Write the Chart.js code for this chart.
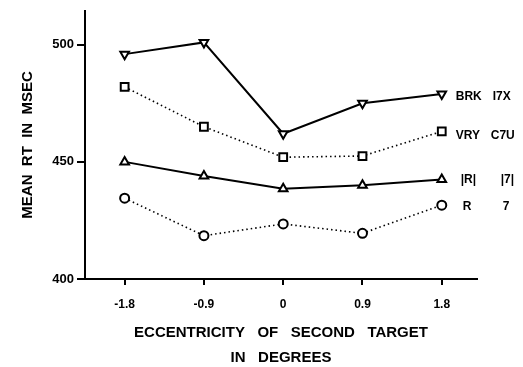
<!DOCTYPE html>
<html>
<head>
<meta charset="utf-8">
<script src="https://cdn.jsdelivr.net/npm/chart.js@4/dist/chart.umd.min.js"></script>
<style>
  html, body { margin: 0; padding: 0; background: #fff; }
  #wrap { width: 523px; height: 367px; position: relative; }
</style>
</head>
<body>
<div id="wrap"><canvas id="c" width="523" height="367"></canvas></div>
<script>
// ---- data ----
const eccentricity = [-1.8, -0.9, 0, 0.9, 1.8];
const xTickValues = [-1.8, -0.9, 0, 0.9, 1.8];
const yTickValues = [400, 450, 500];

const seriesBRK = [496, 501, 462, 475, 479];
const seriesVRY = [482, 465, 452, 452.5, 463];
const seriesIRI = [450, 444, 438.5, 440, 442.5];
const seriesR   = [434.5, 418.5, 423.5, 419.5, 431.5];

const labelFirst  = ['BRK', 'VRY', '|R|', 'R'];
const labelSecond = ['I7X', 'C7U', '|7|', '7'];

const xTitle = ['ECCENTRICITY   OF   SECOND   TARGET', 'IN   DEGREES'];
const yTitle = 'MEAN  RT  IN  MSEC';

const FONT = "'Liberation Sans', Arial, sans-serif";
const INK = '#000';

function pts(vals) { return eccentricity.map((x, i) => ({ x: x, y: vals[i] })); }

const solid = [];
const dotted = [1.5, 3];

const datasets = [
  { data: pts(seriesBRK), borderDash: solid, borderWidth: 2, pointStyle: 'triangle', pointRotation: 180, pointRadius: 5 },
  { data: pts(seriesVRY), borderDash: dotted, borderWidth: 1.6, pointStyle: 'rect', pointRotation: 0, pointRadius: 5.5 },
  { data: pts(seriesIRI), borderDash: solid, borderWidth: 2, pointStyle: 'triangle', pointRotation: 0, pointRadius: 5 },
  { data: pts(seriesR), borderDash: dotted, borderWidth: 1.6, pointStyle: 'circle', pointRotation: 0, pointRadius: 4.5 }
].map(d => Object.assign({
  borderColor: INK,
  backgroundColor: '#fff',
  pointBackgroundColor: '#fff',
  pointBorderColor: INK,
  pointBorderWidth: 2,
  showLine: true,
  tension: 0,
  fill: false
}, d));

const endLabels = {
  id: 'endLabels',
  afterDatasetsDraw(chart) {
    const ctx = chart.ctx;
    const xs = chart.scales.x, ys = chart.scales.y;
    ctx.save();
    ctx.fillStyle = INK;
    ctx.font = 'bold 12px ' + FONT;
    ctx.textBaseline = 'middle';
    ctx.textAlign = 'left';
    const offs1 = [14, 14, 19, 21];
    const offs2 = [51, 49, 59, 61];
    const dy = [3, 4, 0, 1];
    chart.data.datasets.forEach((ds, i) => {
      const last = ds.data[ds.data.length - 1];
      const px = xs.getPixelForValue(last.x);
      const py = ys.getPixelForValue(last.y) + dy[i];
      ctx.fillText(labelFirst[i], px + offs1[i], py);
      ctx.fillText(labelSecond[i], px + offs2[i], py);
    });
    ctx.restore();
  }
};

new Chart(document.getElementById('c'), {
  type: 'scatter',
  data: { datasets: datasets },
  plugins: [endLabels],
  options: {
    responsive: false,
    animation: false,
    devicePixelRatio: 1,
    layout: { padding: { top: 8, right: 46, bottom: 0, left: 0 } },
    plugins: { legend: { display: false }, tooltip: { enabled: false } },
    scales: {
      x: {
        type: 'linear',
        min: -2.25,
        max: 2.2,
        afterBuildTicks: s => { s.ticks = xTickValues.map(v => ({ value: v })); },
        afterFit: s => { s.height = 88; },
        border: { display: true, color: INK, width: 2 },
        grid: { display: true, drawOnChartArea: false, drawTicks: true, tickLength: 6, color: INK, lineWidth: 2 },
        ticks: { color: INK, font: { size: 12, weight: 'bold', family: FONT }, padding: 12, maxRotation: 0,
                 callback: v => String(v) },
        title: { display: true, text: xTitle, color: INK, font: { size: 15, weight: 'bold', family: FONT, lineHeight: '25px' }, padding: { top: 0, bottom: -3 } }
      },
      y: {
        type: 'linear',
        min: 400,
        max: 514.5,
        afterBuildTicks: s => { s.ticks = yTickValues.map(v => ({ value: v })); },
        afterFit: s => { s.width = 85; },
        border: { display: true, color: INK, width: 2 },
        grid: { display: true, drawOnChartArea: false, drawTicks: true, tickLength: 8, color: INK, lineWidth: 2 },
        ticks: { color: INK, font: { size: 13, weight: 'bold', family: FONT }, padding: 3 },
        title: { display: true, text: yTitle, color: INK, font: { size: 15, weight: 'bold', family: FONT }, padding: { top: 19, bottom: 0 } }
      }
    }
  }
});
</script>
</body>
</html>
